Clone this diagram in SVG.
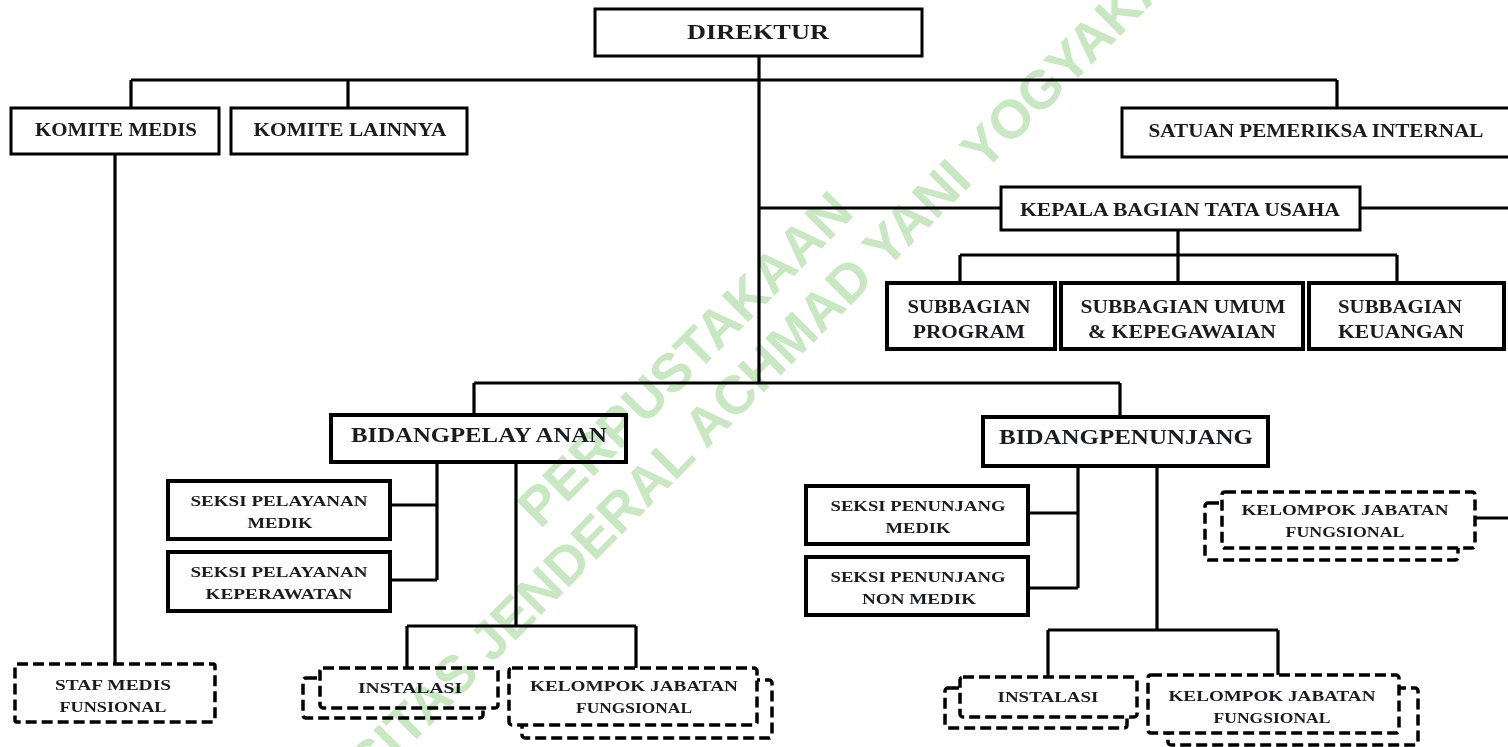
<svg xmlns="http://www.w3.org/2000/svg" width="1508" height="747" viewBox="0 0 1508 747">
<style>
.bg{fill:#fff}
.box{fill:#fff;stroke:#000;stroke-width:3}
.thick{stroke-width:4}
.dash{fill:#fff;stroke:#000;stroke-width:3.5;stroke-dasharray:11 5}
.wire{fill:none;stroke:#000;stroke-width:3.2}
.t{font-family:"Liberation Serif","Times New Roman",serif;font-weight:bold;fill:#1a1a22;text-anchor:middle}
.t20{font-size:20px}
.t18{font-size:18px}
.t15{font-size:15px}
.t14{font-size:14px}
.wm{font-family:"Liberation Sans",Arial,sans-serif;font-weight:bold;font-size:54px;fill:#c8e8c1;text-anchor:middle}
</style>
<rect class="bg" x="0" y="0" width="1508" height="747"/>
<g id="connectors">
<path class="wire" d="M759,56 V383 M131,80 H1337 M131,80 V108 M348,80 V108 M1337,80 V108 M115,154 V664 M759,208 H1001 M1360,208 H1508 M1178,230 V255 M960,255 H1397 M960,255 V283 M1178,255 V283 M1397,255 V283 M474,383 H1120 M474,383 V415 M1120,383 V417 M437,462 V580 M390,505 H437 M390,580 H437 M516,462 V626 M407,626 H636 M407,626 V668 M636,626 V668 M1078,466 V588 M1028,513 H1078 M1028,588 H1078 M1157,466 V630 M1048,630 H1278 M1048,630 V677 M1278,630 V675 M1475,518 H1508"/>
</g>
<g id="direktur"><rect class="box" x="595" y="9" width="327" height="47"/><text class="t t20" x="758" y="39" textLength="142" lengthAdjust="spacingAndGlyphs">DIREKTUR</text></g>
<g id="komite-medis"><rect class="box" x="11" y="108" width="208" height="46"/><text class="t t18" x="116" y="136" textLength="162" lengthAdjust="spacingAndGlyphs">KOMITE MEDIS</text></g>
<g id="komite-lainnya"><rect class="box" x="231" y="108" width="236" height="46"/><text class="t t18" x="350" y="136" textLength="193" lengthAdjust="spacingAndGlyphs">KOMITE LAINNYA</text></g>
<g id="satuan-pemeriksa"><rect class="box" x="1122" y="108" width="390" height="49"/><text class="t t18" x="1316" y="137" textLength="335" lengthAdjust="spacingAndGlyphs">SATUAN PEMERIKSA INTERNAL</text></g>
<g id="kepala-bagian"><rect class="box" x="1001" y="187" width="359" height="43"/><text class="t t18" x="1180" y="216" textLength="320" lengthAdjust="spacingAndGlyphs">KEPALA BAGIAN TATA USAHA</text></g>
<g id="subbagian-program"><rect class="box thick" x="887" y="283" width="168" height="66"/><text class="t t18" x="969" y="313" textLength="123" lengthAdjust="spacingAndGlyphs">SUBBAGIAN</text><text class="t t18" x="969" y="338" textLength="112" lengthAdjust="spacingAndGlyphs">PROGRAM</text></g>
<g id="subbagian-umum"><rect class="box thick" x="1061" y="283" width="242" height="66"/><text class="t t18" x="1183" y="313" textLength="205" lengthAdjust="spacingAndGlyphs">SUBBAGIAN UMUM</text><text class="t t18" x="1182" y="338" textLength="188" lengthAdjust="spacingAndGlyphs">&amp; KEPEGAWAIAN</text></g>
<g id="subbagian-keuangan"><rect class="box thick" x="1309" y="283" width="195" height="66"/><text class="t t18" x="1400" y="313" textLength="124" lengthAdjust="spacingAndGlyphs">SUBBAGIAN</text><text class="t t18" x="1401" y="338" textLength="126" lengthAdjust="spacingAndGlyphs">KEUANGAN</text></g>
<g id="bidang-pelayanan"><rect class="box thick" x="331" y="415" width="295" height="47"/><text class="t t20" x="479" y="442" textLength="256" lengthAdjust="spacingAndGlyphs">BIDANGPELAY ANAN</text></g>
<g id="bidang-penunjang"><rect class="box thick" x="983" y="417" width="285" height="49"/><text class="t t20" x="1126" y="444" textLength="254" lengthAdjust="spacingAndGlyphs">BIDANGPENUNJANG</text></g>
<g id="seksi-pelayanan-medik"><rect class="box thick" x="168" y="481" width="222" height="58"/><text class="t t14" x="279" y="506" textLength="177" lengthAdjust="spacingAndGlyphs">SEKSI PELAYANAN</text><text class="t t14" x="280" y="528" textLength="65" lengthAdjust="spacingAndGlyphs">MEDIK</text></g>
<g id="seksi-pelayanan-keperawatan"><rect class="box thick" x="168" y="552" width="222" height="59"/><text class="t t14" x="279" y="577" textLength="177" lengthAdjust="spacingAndGlyphs">SEKSI PELAYANAN</text><text class="t t14" x="279" y="599" textLength="147" lengthAdjust="spacingAndGlyphs">KEPERAWATAN</text></g>
<g id="seksi-penunjang-medik"><rect class="box thick" x="806" y="486" width="222" height="58"/><text class="t t14" x="918" y="511" textLength="175" lengthAdjust="spacingAndGlyphs">SEKSI PENUNJANG</text><text class="t t14" x="918" y="533" textLength="65" lengthAdjust="spacingAndGlyphs">MEDIK</text></g>
<g id="seksi-penunjang-non-medik"><rect class="box thick" x="806" y="557" width="222" height="58"/><text class="t t14" x="918" y="582" textLength="175" lengthAdjust="spacingAndGlyphs">SEKSI PENUNJANG</text><text class="t t14" x="919" y="604" textLength="114" lengthAdjust="spacingAndGlyphs">NON MEDIK</text></g>
<g id="staf-medis"><rect class="dash" x="15" y="664" width="200" height="58" rx="2"/><text class="t t14" x="113" y="690" textLength="116" lengthAdjust="spacingAndGlyphs">STAF MEDIS</text><text class="t t14" x="113" y="712" textLength="107" lengthAdjust="spacingAndGlyphs">FUNSIONAL</text></g>
<g id="instalasi-pelayanan"><rect class="dash" x="303" y="678" width="180" height="40" rx="3"/><rect class="dash" x="320" y="668" width="178" height="40" rx="3"/><text class="t t14" x="410" y="693" textLength="104" lengthAdjust="spacingAndGlyphs">INSTALASI</text></g>
<g id="kjf-pelayanan"><rect class="dash" x="522" y="680" width="250" height="58" rx="3"/><rect class="dash" x="509" y="668" width="248" height="57" rx="3"/><text class="t t14" x="634" y="691" textLength="208" lengthAdjust="spacingAndGlyphs">KELOMPOK JABATAN</text><text class="t t14" x="634" y="713" textLength="116" lengthAdjust="spacingAndGlyphs">FUNGSIONAL</text></g>
<g id="instalasi-penunjang"><rect class="dash" x="945" y="688" width="182" height="40" rx="3"/><rect class="dash" x="960" y="677" width="177" height="40" rx="3"/><text class="t t14" x="1048" y="702" textLength="101" lengthAdjust="spacingAndGlyphs">INSTALASI</text></g>
<g id="kjf-penunjang"><rect class="dash" x="1168" y="688" width="250" height="57" rx="3"/><rect class="dash" x="1148" y="675" width="251" height="58" rx="3"/><text class="t t14" x="1272" y="701" textLength="207" lengthAdjust="spacingAndGlyphs">KELOMPOK JABATAN</text><text class="t t14" x="1272" y="723" textLength="117" lengthAdjust="spacingAndGlyphs">FUNGSIONAL</text></g>
<g id="kjf-kanan"><rect class="dash" x="1205" y="503" width="253" height="57" rx="3"/><rect class="dash" x="1222" y="492" width="253" height="56" rx="3"/><text class="t t14" x="1345" y="515" textLength="207" lengthAdjust="spacingAndGlyphs">KELOMPOK JABATAN</text><text class="t t14" x="1345" y="537" textLength="119" lengthAdjust="spacingAndGlyphs">FUNGSIONAL</text></g>
<g id="watermark" style="mix-blend-mode:multiply">
<text class="wm" transform="translate(698,372) rotate(-45)">PERPUSTAKAAN</text>
<text class="wm" transform="translate(738,418) rotate(-45)">UNIVERSITAS JENDERAL ACHMAD YANI YOGYAKARTA</text>
</g>
</svg>
